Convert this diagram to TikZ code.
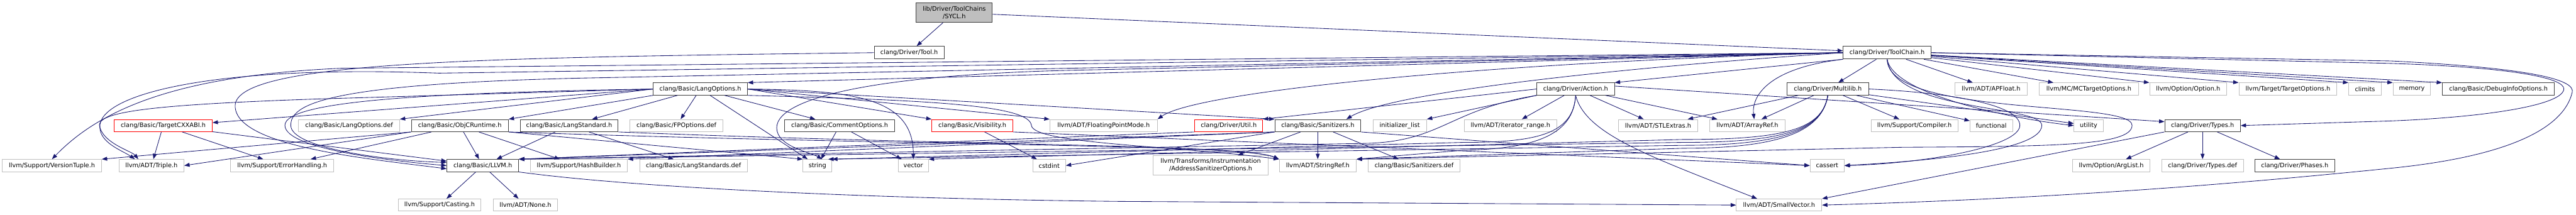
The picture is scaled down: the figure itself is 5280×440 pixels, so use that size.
\documentclass[tikz,border=0pt]{standalone}
\usepackage{fontspec}
\setmainfont{DejaVu Sans}
\usetikzlibrary{arrows.meta}
\definecolor{edgec}{HTML}{191970}
\definecolor{gryc}{HTML}{BFBFBF}
\definecolor{blkc}{HTML}{404040}
\newcommand\dxfont{\fontsize{12.6}{15}\selectfont}
\tikzset{
  bx/.style={draw=blkc, line width=1.2pt, fill=white, inner sep=0pt, minimum height=25pt, font=\dxfont, align=center},
  gb/.style={bx, draw=gryc},
  rb/.style={bx, draw=red},
  dep/.style={draw=edgec, line width=1.1pt, -{Triangle[length=11pt,width=8pt]}},
}
\begin{document}
\begin{tikzpicture}[x=1pt,y=-1pt]
\useasboundingbox (0,0) rectangle (5280,440);
% row 0 and 1
\node[bx, fill=gryc, minimum width=156pt, minimum height=40pt] (sycl) at (1956,26) {lib/Driver/ToolChains\\/SYCL.h};
\node[bx, minimum width=143pt, minimum height=26pt] (tool) at (1863.5,108) {clang/Driver/Tool.h};
\node[bx, minimum width=180pt, minimum height=26pt] (toolchain) at (3868,108) {clang/Driver/ToolChain.h};
% row 2
\node[bx, minimum width=193pt] (langopt) at (1435.5,182.5) {clang/Basic/LangOptions.h};
\node[bx, minimum width=159pt] (action) at (3229.5,182.5) {clang/Driver/Action.h};
\node[bx, minimum width=167pt] (multilib) at (3746.5,182.5) {clang/Driver/Multilib.h};
\node[gb, minimum width=148pt] (apfloat) at (4081,182.5) {llvm/ADT/APFloat.h};
\node[gb, minimum width=203pt] (mctarget) at (4281.5,182.5) {llvm/MC/MCTargetOptions.h};
\node[gb, minimum width=158pt] (option) at (4485,182.5) {llvm/Option/Option.h};
\node[gb, minimum width=201pt] (targetopt) at (4689.5,182.5) {llvm/Target/TargetOptions.h};
\node[gb, minimum width=67pt] (climits) at (4847.5,182.5) {climits};
\node[gb, minimum width=77pt] (memory) at (4943.5,182.5) {memory};
\node[bx, minimum width=230pt] (debuginfo) at (5121,182.5) {clang/Basic/DebugInfoOptions.h};
% row 3
\node[rb, minimum width=201pt] (cxxabi) at (334.5,257.5) {clang/Basic/TargetCXXABI.h};
\node[gb, minimum width=207pt] (langdef) at (715.5,257.5) {clang/Basic/LangOptions.def};
\node[bx, minimum width=199pt] (objc) at (942.5,257.5) {clang/Basic/ObjCRuntime.h};
\node[bx, minimum width=201pt] (langstd) at (1166.5,257.5) {clang/Basic/LangStandard.h};
\node[gb, minimum width=191pt] (fpdef) at (1386.5,257.5) {clang/Basic/FPOptions.def};
\node[bx, minimum width=226pt] (comment) at (1721,257.5) {clang/Basic/CommentOptions.h};
\node[rb, minimum width=166pt] (visibility) at (1993,257.5) {clang/Basic/Visibility.h};
\node[gb, minimum width=220pt] (fpmode) at (2262,257.5) {llvm/ADT/FloatingPointMode.h};
\node[rb, minimum width=139pt] (util) at (2518.5,257.5) {clang/Driver/Util.h};
\node[bx, minimum width=176pt] (sanitizers) at (2701,257.5) {clang/Basic/Sanitizers.h};
\node[gb, minimum width=110pt] (initlist) at (2869,257.5) {initializer\_list};
\node[gb, minimum width=190pt] (iterrange) at (3096,257.5) {llvm/ADT/iterator\_range.h};
\node[gb, minimum width=163pt] (stlextras) at (3398.5,257.5) {llvm/ADT/STLExtras.h};
\node[gb, minimum width=155pt] (arrayref) at (3581.5,257.5) {llvm/ADT/ArrayRef.h};
\node[gb, minimum width=178pt] (compiler) at (3924,257.5) {llvm/Support/Compiler.h};
\node[gb, minimum width=87pt] (functional) at (4081.5,257.5) {functional};
\node[gb, minimum width=60pt] (utility) at (4281,257.5) {utility};
\node[bx, minimum width=155pt] (types) at (4514.5,257.5) {clang/Driver/Types.h};
% row 4
\node[gb, minimum width=203pt] (versiontuple) at (106.5,339.5) {llvm/Support/VersionTuple.h};
\node[gb, minimum width=133pt] (triple) at (310.5,339.5) {llvm/ADT/Triple.h};
\node[gb, minimum width=211pt] (errh) at (578.5,339.5) {llvm/Support/ErrorHandling.h};
\node[bx, minimum width=147pt] (llvmh) at (989.5,339.5) {clang/Basic/LLVM.h};
\node[gb, minimum width=199pt] (hashb) at (1186.5,339.5) {llvm/Support/HashBuilder.h};
\node[gb, minimum width=221pt] (langstds) at (1421.5,339.5) {clang/Basic/LangStandards.def};
\node[gb, minimum width=59pt] (string) at (1675.5,339.5) {string};
\node[gb, minimum width=62pt] (vector) at (1872,339.5) {vector};
\node[gb, minimum width=67pt] (cstdint) at (2150.5,339.5) {cstdint};
\node[gb, minimum width=235pt, minimum height=40pt] (asan) at (2481.5,339) {llvm/Transforms/Instrumentation\\/AddressSanitizerOptions.h};
\node[gb, minimum width=158pt] (stringref) at (2701,339.5) {llvm/ADT/StringRef.h};
\node[gb, minimum width=189pt] (sandef) at (2898.5,339.5) {clang/Basic/Sanitizers.def};
\node[gb, minimum width=70pt] (cassert) at (3745,339.5) {cassert};
\node[gb, minimum width=159pt] (arglist) at (4327.5,339.5) {llvm/Option/ArgList.h};
\node[gb, minimum width=167pt] (typesdef) at (4514.5,339.5) {clang/Driver/Types.def};
\node[bx, minimum width=163pt] (phases) at (4703.5,339.5) {clang/Driver/Phases.h};
% row 5
\node[gb, minimum width=170pt] (casting) at (901,420.5) {llvm/Support/Casting.h};
\node[gb, minimum width=132pt] (none) at (1077,420.5) {llvm/ADT/None.h};
\node[gb, minimum width=175pt] (smallvec) at (3646.5,420.5) {llvm/ADT/SmallVector.h};

% ---- SYCL.h
\draw[dep] (sycl) -- (tool);
\draw[dep] (sycl) -- (toolchain);
% ---- Tool.h
\draw[dep] (tool.west) .. controls (1000,118) and (482,125) .. (482,217) .. controls (482,300) and (750,325) .. (llvmh.185);
% ---- ToolChain.h
\draw[dep] (toolchain) -- (debuginfo.north west);
\draw[dep] (toolchain) -- (memory.north west);
\draw[dep] (toolchain) -- (climits.north west);
\draw[dep] (toolchain) -- (targetopt.north west);
\draw[dep] (toolchain) -- (option.north west);
\draw[dep] (toolchain) -- (mctarget);
\draw[dep] (toolchain) -- (apfloat);
\draw[dep] (toolchain) -- (multilib);
\draw[dep] (toolchain.east) -- (4900,130) .. controls (5150,138) and (5255,160) .. (5255,182) .. controls (5255,215) and (5100,240) .. (4900,248) -- (types.east);
\draw[dep] (toolchain.east) -- (4900,125) .. controls (5200,140) and (5280,165) .. (5272,190) .. controls (5255,260) and (5150,320) .. (4900,345) .. controls (4700,365) and (4300,405) .. (smallvec.east);
\draw[dep] (toolchain.west) .. controls (3300,140) and (2850,190) .. ([xshift=-30pt]sanitizers.north east);
\draw[dep] (toolchain.west) .. controls (3000,130) and (2450,190) .. (fpmode.north east);
\draw[dep] (toolchain.south west) -- (action.north east);
\draw[dep] (toolchain.south west) .. controls (3620,140) and (3590,200) .. ([xshift=14pt]arrayref.north);
\draw[dep] (toolchain.west) -- (langopt.north east);
\draw[dep] (toolchain.west) -- (2250,143) .. controls (1800,150) and (1592,200) .. (1592,262) .. controls (1592,300) and (1660,312) .. ([xshift=10pt]string.north);
\draw[dep] (toolchain.west) -- (1200,160) .. controls (660,172) and (596,215) .. (596,257) .. controls (596,305) and (800,330) .. (llvmh.175);
\draw[dep] (toolchain.west) -- (700,140) .. controls (350,155) and (200,230) .. (versiontuple.north);
\draw[dep] (toolchain.west) -- (900,150) .. controls (450,133) and (215,190) .. (205,255) .. controls (200,292) and (250,308) .. ([xshift=-34pt]triple.north);
\draw[dep] (toolchain.south) .. controls (3880,190) and (4100,240) .. (utility.west);
\draw[dep] (toolchain.south) .. controls (3880,230) and (4185,215) .. (4185,257) .. controls (4185,310) and (3950,330) .. (cassert.east);
\draw[dep] (toolchain.south) .. controls (3870,240) and (4370,205) .. (4370,257) .. controls (4370,300) and (4200,300) .. (3900,302) -- (stringref.north east);
% ---- Multilib.h
\draw[dep] (multilib) -- (stlextras);
\draw[dep] (multilib) -- (arrayref);
\draw[dep] (multilib) -- (compiler);
\draw[dep] (multilib) -- (functional);
\draw[dep] (multilib) -- (utility);
\draw[dep] (multilib.east) .. controls (4000,190) and (4140,215) .. (4140,257) .. controls (4140,300) and (3950,335) .. (cassert.east);
\draw[dep] (multilib.south) .. controls (3735,265) and (3660,292) .. (3450,292) -- (llvmh.north east);
\draw[dep] (multilib.south) .. controls (3735,265) and (3660,298) .. (3450,298) -- ([xshift=-8pt]string.north east);
\draw[dep] (multilib.south) .. controls (3735,265) and (3660,286) .. (3450,286) -- (vector.north east);
\draw[dep] (multilib.south) .. controls (3735,265) and (3660,304) .. (3450,304) -- (stringref.north east);
% ---- Action.h
\draw[dep] ([yshift=6pt]action.east) -- ([yshift=8pt]types.west);
\draw[dep] (action.west) -- (util.north east);
\draw[dep] (action.south west) -- (initlist.north east);
\draw[dep] (action) -- (iterrange);
\draw[dep] (action) -- (stlextras);
\draw[dep] (action) -- (arrayref);
\draw[dep] (action.south) .. controls (3250,275) and (3380,320) .. ([xshift=-45pt]smallvec.north);
\draw[dep] (action.south) .. controls (3225,275) and (3150,305) .. (3000,308) -- (stringref.north east);
\draw[dep] (action.south) .. controls (3225,275) and (3150,292) .. (3000,292) -- (string.north east);
\draw[dep] (action.south west) .. controls (2970,225) and (2955,290) .. (2800,294) -- (llvmh.north east);
% ---- Types.h
\draw[dep] (types) -- (phases);
\draw[dep] (types) -- (typesdef);
\draw[dep] (types) -- (arglist);
\draw[dep] (types.south west) -- (smallvec.north east);
% ---- LangOptions.h
\draw[dep] (langopt) -- (langstd);
\draw[dep] (langopt) -- (fpdef);
\draw[dep] (langopt) -- (comment);
\draw[dep] (langopt) -- (string);
\draw[dep] (langopt.east) .. controls (1750,185) and (1872,200) .. (vector.north);
\draw[dep] (langopt.east) -- (visibility.north west);
\draw[dep] (langopt.east) -- (fpmode.north west);
\draw[dep] (langopt.east) -- (sanitizers.north west);
\draw[dep] (langopt.south east) .. controls (1900,205) and (2110,215) .. (2114,257) .. controls (2118,295) and (2400,298) .. (stringref.north west);
\draw[dep] (langopt.west) -- ([yshift=6pt]cxxabi.east);
\draw[dep] (langopt.west) -- (langdef.north east);
\draw[dep] (langopt.south west) -- (objc.north east);
\draw[dep] (langopt.west) -- (650,203) .. controls (300,215) and (190,230) .. (205,262) .. controls (215,295) and (270,310) .. ([xshift=-27pt]triple.north);
\draw[dep] (langopt.west) .. controls (900,190) and (584,205) .. (584,257) .. controls (584,305) and (800,330) .. (llvmh.west);
% ---- CommentOptions.h
\draw[dep] (comment) -- (string);
\draw[dep] (comment) -- (vector);
% ---- Visibility.h
\draw[dep] (visibility) -- (cstdint);
\draw[dep] (visibility.south east) -- (cassert.west);
% ---- Sanitizers.h
\draw[dep] (sanitizers) -- (asan);
\draw[dep] (sanitizers) -- (stringref);
\draw[dep] (sanitizers) -- (sandef);
\draw[dep] (sanitizers.south east) -- (cassert.west);
\draw[dep] (sanitizers.south west) -- (cstdint.east);
\draw[dep] (sanitizers.south west) -- (hashb.north east);
\draw[dep] (sanitizers.south west) -- (llvmh.north east);
% ---- Util.h
\draw[dep] (util.south west) -- (llvmh.north east);
% ---- LangStandard.h
\draw[dep] (langstd) -- (llvmh);
\draw[dep] (langstd) -- (langstds);
\draw[dep] (langstd.south east) .. controls (2000,300) and (2550,295) .. (stringref.north west);
% ---- ObjCRuntime.h
\draw[dep] (objc) -- (llvmh);
\draw[dep] (objc) -- (errh);
\draw[dep] (objc) -- (hashb);
\draw[dep] (objc.south west) -- (versiontuple.north east);
\draw[dep] (objc.south west) -- (triple.east);
\draw[dep] (objc.south east) .. controls (1900,300) and (2550,295) .. (stringref.north west);
\draw[dep] (objc.south east) -- (string.north west);
% ---- TargetCXXABI.h
\draw[dep] (cxxabi) -- (triple);
\draw[dep] (cxxabi) -- (errh);
\draw[dep] (cxxabi) -- (llvmh);
% ---- LLVM.h
\draw[dep] (llvmh) -- (casting);
\draw[dep] (llvmh) -- (none);
\draw[dep] (llvmh.south east) .. controls (1300,385) and (1800,408) .. (2300,413) -- (smallvec.west);
\end{tikzpicture}
\end{document}
